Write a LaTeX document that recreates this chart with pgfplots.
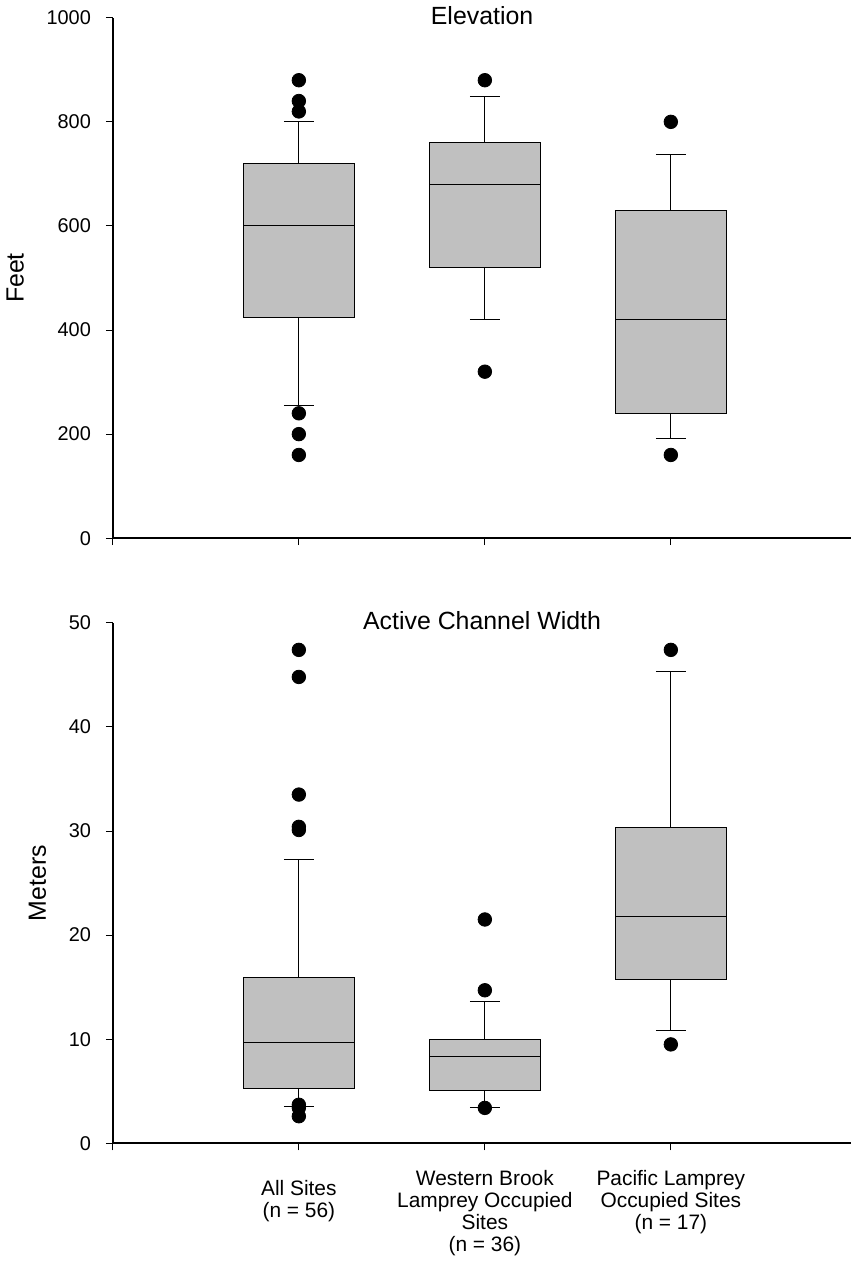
\documentclass[border=0pt]{standalone}
\usepackage{fontspec}
\setmainfont{Liberation Sans}
\usepackage{pgfplots}
\pgfplotsset{compat=1.18}

\definecolor{boxgray}{RGB}{192,192,192}

% box: x center, lower whisker, Q1, median, Q3, upper whisker
\pgfplotsset{
  panel/.style={
    scale only axis,
    width=371pt, height=261.5pt,
    xmin=0, xmax=3.97, ymin=0,
    axis x line*=bottom, axis y line*=left,
    axis line style={line width=0.8pt},
    tick align=outside, major tick length=3.5pt,
    tick style={black, line width=0.5pt},
    xtick={0,1,2,3},
    yticklabel style={font={\fontsize{10}{11}\selectfont}, xshift=-4pt},
    xticklabel style={font={\fontsize{10.5}{11}\selectfont}},
    /pgf/number format/assume math mode=true,
    /pgf/number format/1000 sep={},
    title style={font={\fontsize{12.5}{15}\selectfont}, anchor=center, yshift=-5pt},
    ylabel style={font={\fontsize{12.5}{15}\selectfont}},
    ylabel shift=4.5pt,
    unbounded coords=jump,
  },
  boxfill/.style={draw=black, fill=boxgray, line width=0.5pt, mark=none},
  seg/.style={black, line width=0.5pt, mark=none},
  outl/.style={only marks, mark=*, mark size=3.4pt, black, mark options={fill=black}},
}

\begin{document}
\begin{tikzpicture}
\begin{axis}[panel, name=top,
  ymax=1000, ytick={0,200,...,1000},
  xticklabels={},
  title={Elevation}, ylabel={Feet}]
% whiskers and caps
\addplot[seg] coordinates {
  (1,255) (1,425) (nan,nan) (1,720) (1,800) (nan,nan)
  (0.92,255) (1.08,255) (nan,nan) (0.92,800) (1.08,800) (nan,nan)
  (2,420) (2,520) (nan,nan) (2,760) (2,849) (nan,nan)
  (1.92,420) (2.08,420) (nan,nan) (1.92,849) (2.08,849) (nan,nan)
  (3,192) (3,240) (nan,nan) (3,630) (3,737) (nan,nan)
  (2.92,192) (3.08,192) (nan,nan) (2.92,737) (3.08,737)};
% boxes (Q1 to Q3)
\addplot[boxfill] coordinates {(0.7,425) (1.3,425) (1.3,720) (0.7,720) (0.7,425)};
\addplot[boxfill] coordinates {(1.7,520) (2.3,520) (2.3,760) (1.7,760) (1.7,520)};
\addplot[boxfill] coordinates {(2.7,240) (3.3,240) (3.3,630) (2.7,630) (2.7,240)};
% medians
\addplot[seg] coordinates {(0.7,600) (1.3,600) (nan,nan) (1.7,680) (2.3,680) (nan,nan) (2.7,420) (3.3,420)};
% outliers
\addplot[outl] coordinates {
  (1,880) (1,840) (1,820) (1,240) (1,200) (1,160)
  (2,880) (2,320)
  (3,800) (3,160)};
\end{axis}

\begin{axis}[panel, at={(top.south west)}, anchor=north west, yshift=-42.5pt,
  ymax=50, ytick={0,10,...,50},
  xticklabels={,{\rule{0pt}{12.7pt}All Sites\\(n = 56)},{Western Brook\\Lamprey Occupied\\Sites\\(n = 36)},{Pacific Lamprey\\Occupied Sites\\(n = 17)}},
  xticklabel style={align=center, anchor=north, yshift=-6.5pt},
  title={Active Channel Width}, ylabel={Meters}]
\addplot[seg] coordinates {
  (1,3.5) (1,5.3) (nan,nan) (1,15.9) (1,27.3) (nan,nan)
  (0.92,3.5) (1.08,3.5) (nan,nan) (0.92,27.3) (1.08,27.3) (nan,nan)
  (2,3.4) (2,5.1) (nan,nan) (2,10.0) (2,13.6) (nan,nan)
  (1.92,3.4) (2.08,3.4) (nan,nan) (1.92,13.6) (2.08,13.6) (nan,nan)
  (3,10.85) (3,15.7) (nan,nan) (3,30.3) (3,45.3) (nan,nan)
  (2.92,10.85) (3.08,10.85) (nan,nan) (2.92,45.3) (3.08,45.3)};
\addplot[boxfill] coordinates {(0.7,5.3) (1.3,5.3) (1.3,15.9) (0.7,15.9) (0.7,5.3)};
\addplot[boxfill] coordinates {(1.7,5.1) (2.3,5.1) (2.3,10.0) (1.7,10.0) (1.7,5.1)};
\addplot[boxfill] coordinates {(2.7,15.7) (3.3,15.7) (3.3,30.3) (2.7,30.3) (2.7,15.7)};
\addplot[seg] coordinates {(0.7,9.7) (1.3,9.7) (nan,nan) (1.7,8.3) (2.3,8.3) (nan,nan) (2.7,21.8) (3.3,21.8)};
\addplot[outl] coordinates {
  (1,47.4) (1,44.8) (1,33.5) (1,30.4) (1,30.1) (1,3.7) (1,3.4) (1,2.6)
  (2,21.5) (2,14.7) (2,3.4)
  (3,47.4) (3,9.5)};
\end{axis}
\end{tikzpicture}
\end{document}
